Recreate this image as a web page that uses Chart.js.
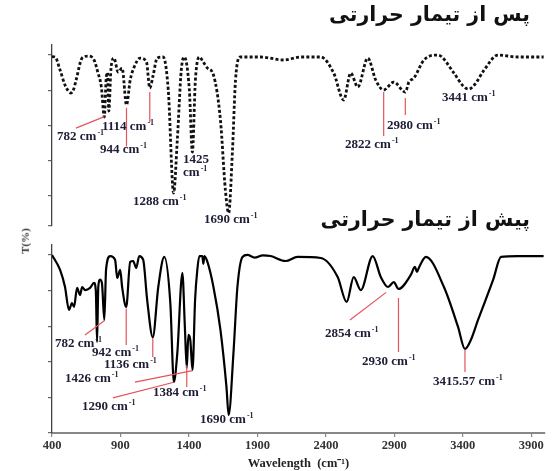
<!DOCTYPE html>
<html>
<head>
<meta charset="utf-8">
<script src="https://cdn.jsdelivr.net/npm/chart.js@4"></script>
<style>
  body { margin: 0; background: #fff; }
  #wrap { position: relative; width: 557px; height: 471px; overflow: hidden; }
  canvas { position: absolute; left: 0; }
  #cTop { top: 0; }
  #cBot { top: 235px; }
  .fa { position: absolute; font-family: "DejaVu Sans", sans-serif; font-weight: bold; font-size: 20.5px; direction: rtl; white-space: nowrap; color: #111; }
  #ylab { position: absolute; left: 12px; top: 235px; transform: rotate(-90deg); font: bold 11px "Liberation Serif", serif; color: #333; }
</style>
</head>
<body>
<div id="wrap">
  <canvas id="cTop" width="557" height="240"></canvas>
  <canvas id="cBot" width="557" height="236"></canvas>
  <div class="fa" style="right:27px; top:2px;">پس از تیمار حرارتی</div>
  <div class="fa" style="right:27px; top:207px;">پیش از تیمار حرارتی</div>
  <div id="ylab">T(%)</div>
</div>
<script>
// ---------- spectra ----------
// after heat treatment (dashed trace)
const wnAfter = [400, 422, 459, 495, 520, 539, 558, 576, 620, 664, 707, 735, 760, 782, 795, 805, 815, 830, 852, 883, 912, 944,
  971, 1000, 1044, 1090, 1114, 1139, 1168, 1212, 1249, 1288, 1315, 1344, 1366, 1403, 1425, 1447, 1476, 1505, 1535, 1579,
  1630, 1666, 1690, 1718, 1740, 1776, 1923, 2091, 2215, 2362, 2457, 2530, 2581, 2633, 2706, 2764, 2822, 2896, 2980, 3006,
  3043, 3116, 3218, 3335, 3395, 3441, 3490, 3555, 3657, 3800, 3990];
const tAfter = [79.0, 78.8, 71.4, 62.9, 59.5, 58.4, 60.5, 65.7, 78.2, 79.3, 77.1, 70.0, 62.0, 44.8, 66.0, 70.0, 48.2, 71.4, 78.2, 70.3, 72.5, 51.6,
  65.7, 73.1, 78.2, 75.9, 61.2, 68.6, 78.2, 78.8, 60.1, 1.7, 31.7, 71.4, 78.8, 60.1, 24.9, 65.7, 78.8, 75.9, 72.5, 68.6,
  43.1, 3.4, -9.6, 26.1, 65.7, 78.8, 78.8, 77.1, 78.8, 78.8, 69.7, 54.4, 69.7, 61.8, 78.2, 65.7, 60.1, 64.6, 58.9, 64.6,
  66.9, 77.1, 79.9, 69.7, 63.0, 60.6, 63.5, 71.4, 79.9, 78.8, 78.8];

// before heat treatment (solid trace)
const wnBefore = [400, 459, 495, 524, 546, 561, 583, 605, 620, 642, 678, 707, 720, 729, 738, 751, 765, 782, 795, 825,
  861, 876, 898, 912, 942, 971, 993, 1015, 1037, 1066, 1095, 1136, 1176, 1220, 1264, 1290, 1315, 1352, 1370, 1384,
  1396, 1410, 1426, 1445, 1461, 1476, 1498, 1505, 1513, 1535, 1579, 1630, 1674, 1690, 1725, 1754, 1791, 1827, 1880, 1940,
  1996, 2106, 2193, 2362, 2486, 2552, 2603, 2655, 2742, 2801, 2854, 2896, 2930, 3020, 3050, 3065, 3080, 3130, 3262, 3365,
  3415.57, 3460, 3511, 3621, 3679, 3800, 3990];
const tBefore = [100, 91.6, 82.0, 69.1, 73.0, 70.8, 81.5, 77.5, 82.0, 80.3, 81.5, 84.3, 80.0, 51.1, 82.0, 86.2, 84.0, 63.5, 92.0, 99.4,
  97.2, 87.1, 91.6, 82.0, 70.8, 96.1, 96.6, 92.7, 99.4, 97.2, 74.7, 53.9, 82.0, 98.9, 73.0, 28.7, 44.9, 89.9, 60.0, 36.5,
  55.1, 52.2, 35.4, 75.0, 91.6, 99.4, 99.4, 95.0, 99.4, 96.1, 82.0, 57.9, 25.8, 10.1, 44.9, 82.0, 98.9, 100, 98.5, 99.8,
  99.4, 96.6, 98.9, 98.3, 87.6, 73.6, 87.6, 80.3, 99.4, 87.6, 82.0, 84.8, 80.9, 88.8, 93.3, 90.5, 93.0, 98.9, 82.0, 59.6,
  47.2, 52.5, 63.5, 86.0, 98.9, 99.4, 99.4];

const xTicks = [400, 900, 1400, 1900, 2400, 2900, 3400, 3900];
const peaksAfter = [782, 944, 1114, 1288, 1425, 1690, 2822, 2980, 3441];
const peaksBefore = [782, 942, 1136, 1290, 1384, 1426, 1690, 2854, 2930, 3415.57];

// ---------- label placement (data coords) ----------
const labelsAfter = [
  { peak: peaksAfter[0], at: [437, 33.4], line: [575, 38.5, 782, 45] },
  { peak: peaksAfter[1], at: [750, 26.1], line: [944, 50, 944, 28] },
  { peak: peaksAfter[2], at: [765, 39.1], line: [1114, 59, 1114, 42] },
  { peak: peaksAfter[3], at: [991, -3.4] },
  { peak: peaksAfter[4], at: [1357, 20.4], split: true },
  { peak: peaksAfter[5], at: [1510, -13.6] },
  { peak: peaksAfter[6], at: [2540, 28.9], line: [2822, 59, 2822, 34] },
  { peak: peaksAfter[7], at: [2846, 39.7], line: [2980, 55.6, 2980, 45.9] },
  { peak: peaksAfter[8], at: [3248, 55.6] }
];
const labelsBefore = [
  { peak: peaksBefore[0], at: [422, 50.0], line: [641, 55.0, 782, 63] },
  { peak: peaksBefore[1], at: [692, 44.9], line: [942, 70, 942, 49.4] },
  { peak: peaksBefore[2], at: [780, 38.2], line: [1136, 53.4, 1136, 42.7] },
  { peak: peaksBefore[3], at: [619, 14.6], line: [845, 19.7, 1290, 28.5] },
  { peak: peaksBefore[4], at: [1137, 22.5], line: [1384, 38, 1384, 25.8] },
  { peak: peaksBefore[5], at: [495, 30.3], line: [1006, 28.6, 1426, 35] },
  { peak: peaksBefore[6], at: [1481, 7.3] },
  { peak: peaksBefore[7], at: [2393, 55.6], line: [2576, 63.5, 2840, 79] },
  { peak: peaksBefore[8], at: [2664, 39.9], line: [2930, 75.8, 2930, 45.5] },
  { peak: peaksBefore[9], at: [3182, 28.6], line: [3415.57, 46.6, 3415.57, 34.3] }
];

Chart.defaults.font.family = '"Liberation Serif", serif';
Chart.defaults.font.weight = 'bold';

const SERIF = '"Liberation Serif", serif';
const LABEL_SIZE = 13;

function drawCm(ctx, text, x, y) {
  ctx.font = `bold ${LABEL_SIZE}px ${SERIF}`;
  ctx.fillText(text, x, y);
  const w = ctx.measureText(text).width;
  ctx.font = `bold ${LABEL_SIZE * 0.62}px ${SERIF}`;
  ctx.fillText('-1', x + w + 1, y - LABEL_SIZE * 0.33);
}

// peak labels + red leader lines
const peakLabels = {
  id: 'peakLabels',
  afterDatasetsDraw(chart, args, opts) {
    const { ctx } = chart;
    const x = chart.scales.x, y = chart.scales.y;
    ctx.save();
    opts.items.forEach(a => {
      if (a.line) {
        ctx.strokeStyle = '#e5535b';
        ctx.lineWidth = 1.2;
        ctx.beginPath();
        ctx.moveTo(x.getPixelForValue(a.line[0]), y.getPixelForValue(a.line[1]));
        ctx.lineTo(x.getPixelForValue(a.line[2]), y.getPixelForValue(a.line[3]));
        ctx.stroke();
      }
    });
    ctx.fillStyle = '#1d1d35';
    ctx.textBaseline = 'middle';
    ctx.textAlign = 'left';
    opts.items.forEach(a => {
      const px = x.getPixelForValue(a.at[0]);
      const py = y.getPixelForValue(a.at[1]);
      if (a.split) {
        ctx.font = `bold ${LABEL_SIZE}px ${SERIF}`;
        ctx.fillText(String(a.peak), px, py);
        drawCm(ctx, 'cm', px, py + 13);
      } else {
        drawCm(ctx, `${a.peak} cm`, px, py);
      }
    });
    ctx.restore();
  }
};

function toPoints(xs, ys) {
  return xs.map((v, i) => ({ x: v, y: ys[i] }));
}

function yAxis(min, max, ticks) {
  return {
    type: 'linear', min, max,
    afterFit: axis => { axis.width = 52; },
    afterBuildTicks: axis => { axis.ticks = ticks.map(v => ({ value: v })); },
    ticks: { display: false },
    grid: { drawOnChartArea: false, tickLength: 4, color: '#666', lineWidth: 1.2 },
    border: { color: '#444', width: 1.3 }
  };
}

// top panel: after treatment
new Chart(document.getElementById('cTop'), {
  type: 'line',
  data: {
    datasets: [{
      data: toPoints(wnAfter, tAfter),
      borderColor: '#111',
      borderWidth: 2.8,
      borderDash: [3, 2.2],
      pointRadius: 0,
      cubicInterpolationMode: 'monotone'
    }]
  },
  options: {
    responsive: false,
    animation: false,
    layout: { padding: { top: 45, bottom: 14, left: 0, right: 12 } },
    plugins: { legend: { display: false }, tooltip: { enabled: false }, peakLabels: { items: labelsAfter } },
    scales: {
      x: { type: 'linear', min: 400, max: 4000, display: false },
      y: yAxis(-17, 85.6, [-17, 0, 20, 40, 60, 80])
    }
  },
  plugins: [peakLabels]
});

// bottom panel: before treatment
new Chart(document.getElementById('cBot'), {
  type: 'line',
  data: {
    datasets: [{
      data: toPoints(wnBefore, tBefore),
      borderColor: '#000',
      borderWidth: 2.2,
      pointRadius: 0,
      cubicInterpolationMode: 'monotone'
    }]
  },
  options: {
    responsive: false,
    animation: false,
    layout: { padding: { top: 10, bottom: 0, left: 0, right: 12 } },
    plugins: { legend: { display: false }, tooltip: { enabled: false }, peakLabels: { items: labelsBefore } },
    scales: {
      x: {
        type: 'linear', min: 400, max: 4000,
        afterFit: axis => { axis.height = 38; },
        afterBuildTicks: axis => { axis.ticks = xTicks.map(v => ({ value: v })); },
        ticks: { color: '#333', padding: 1, maxRotation: 0, font: { size: 12.5, weight: 'bold' }, callback: v => String(v) },
        grid: { drawOnChartArea: false, tickLength: 4, color: '#888', lineWidth: 1.2 },
        border: { color: '#888', width: 2 },
        title: { display: true, text: 'Wavelength  (cm⁻¹)', color: '#222', padding: 0, font: { size: 12.5, weight: 'bold' } }
      },
      y: yAxis(0, 105.6, [0, 20, 40, 60, 80, 100])
    }
  },
  plugins: [peakLabels]
});
</script>
</body>
</html>
